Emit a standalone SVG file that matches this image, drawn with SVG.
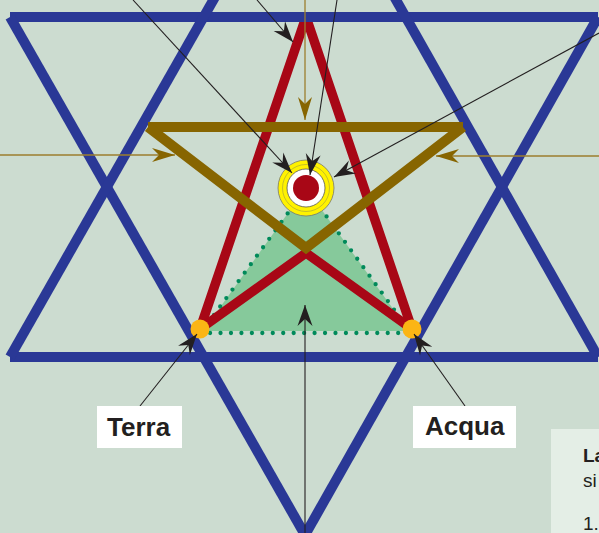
<svg xmlns="http://www.w3.org/2000/svg" width="599" height="533" viewBox="0 0 599 533">
<style>
.blue{stroke:#2a3896;stroke-width:10;stroke-linecap:butt;fill:none}
.red{stroke:#a80716;stroke-width:9.5;fill:none;stroke-linejoin:miter}
.brown{stroke:#876500;stroke-width:10;fill:none;stroke-linecap:butt}
.dots{stroke:#008a5a;stroke-width:4.3;stroke-linecap:round;stroke-dasharray:0 10.45;fill:none}
.arr{stroke:#231f20;stroke-width:1.1;fill:none;marker-end:url(#ah)}
.barr{stroke:#9c7e2e;stroke-width:1.3;fill:none;marker-end:url(#bh)}
.lbl{font-family:"Liberation Sans",Arial,sans-serif;font-weight:bold;font-size:26px;fill:#231f20}
.txt{font-family:"Liberation Sans",Arial,sans-serif;font-size:19px;fill:#231f20}
</style>
<defs>
<marker id="ah" viewBox="-22 -8 24 16" refX="0" refY="0" markerWidth="24" markerHeight="16" markerUnits="userSpaceOnUse" orient="auto">
<path d="M0,0 L-21,-7.5 L-14,0 L-21,7.5 Z" fill="#231f20"/>
</marker>
<marker id="bh" viewBox="-24 -8 26 16" refX="0" refY="0" markerWidth="26" markerHeight="16" markerUnits="userSpaceOnUse" orient="auto">
<path d="M0,0 L-23,-7 L-16,0 L-23,7 Z" fill="#876500"/>
</marker>
<clipPath id="redclip"><rect x="0" y="18" width="599" height="515"/></clipPath>
</defs>
<rect width="599" height="533" fill="#ccdcd0"/>
<g id="green-triangle">
<polygon points="306,188 203,331 409,331" fill="#86c99b"/>
<path class="dots" d="M306,188 L201,333 L411,333 Z"/>
</g>
<g id="red-triangle" clip-path="url(#redclip)">
<path class="red" d="M200,329 L306,17 L412,329"/>
<path class="red" d="M200,329 L306,253 L412,329"/>
</g>
<g id="hexagram">
<line class="blue" x1="10" y1="17" x2="598" y2="17"/>
<line class="blue" x1="10" y1="17" x2="305" y2="535"/>
<line class="blue" x1="598" y1="17" x2="305" y2="535"/>
<line class="blue" x1="10" y1="357" x2="598" y2="357"/>
<line class="blue" x1="10" y1="357" x2="305" y2="-161"/>
<line class="blue" x1="598" y1="357" x2="305" y2="-161"/>
</g>
<g id="brown-triangle">
<line class="brown" x1="148" y1="127" x2="463" y2="127"/>
<path class="brown" d="M148,127 L306,248 L463,127" stroke-linejoin="miter"/>
</g>
<g id="terra-dot"><circle cx="200" cy="329" r="9.5" fill="#fbb514"/></g>
<g id="acqua-dot"><circle cx="412" cy="329" r="9.5" fill="#fbb514"/></g>
<g id="eye">
<circle cx="306" cy="188" r="28" fill="#fff200" stroke="#7a7a6a" stroke-width="0.8"/>
<circle cx="306" cy="188" r="23.5" fill="none" stroke="#8a8a50" stroke-width="0.5"/>
<circle cx="306" cy="188" r="19" fill="#ffffff" stroke="#555" stroke-width="0.8"/>
<circle cx="306" cy="188" r="13" fill="#a80716"/>
</g>
<g id="connectors">
<line class="arr" x1="133" y1="0" x2="292" y2="173"/>
<line class="arr" x1="257" y1="0" x2="293" y2="42"/>
<line class="arr" x1="337" y1="0" x2="310" y2="175"/>
<line class="arr" x1="599" y1="33" x2="334" y2="177"/>
<line class="barr" x1="305" y1="0" x2="305" y2="120"/>
<line class="barr" x1="0" y1="155" x2="175" y2="155"/>
<line class="barr" x1="599" y1="156" x2="436" y2="156"/>
<line class="arr" x1="305" y1="533" x2="305" y2="305"/>
<line class="arr" x1="140" y1="406" x2="197" y2="334"/>
<line class="arr" x1="465" y1="406" x2="414" y2="334"/>
</g>
<g id="label-terra">
<rect x="97" y="406" width="85" height="42" fill="#ffffff"/>
<text class="lbl" x="107" y="436">Terra</text>
</g>
<g id="label-acqua">
<rect x="413" y="406" width="103" height="42" fill="#ffffff"/>
<text class="lbl" x="425" y="435">Acqua</text>
</g>
<g id="panel">
<rect x="551" y="429" width="48" height="104" fill="#e4eee6"/>
<text class="txt" x="583" y="462" font-weight="bold" font-size="20">La</text>
<text class="txt" x="583" y="487">si</text>
<text class="txt" x="583" y="530">1.</text>
</g>
</svg>
